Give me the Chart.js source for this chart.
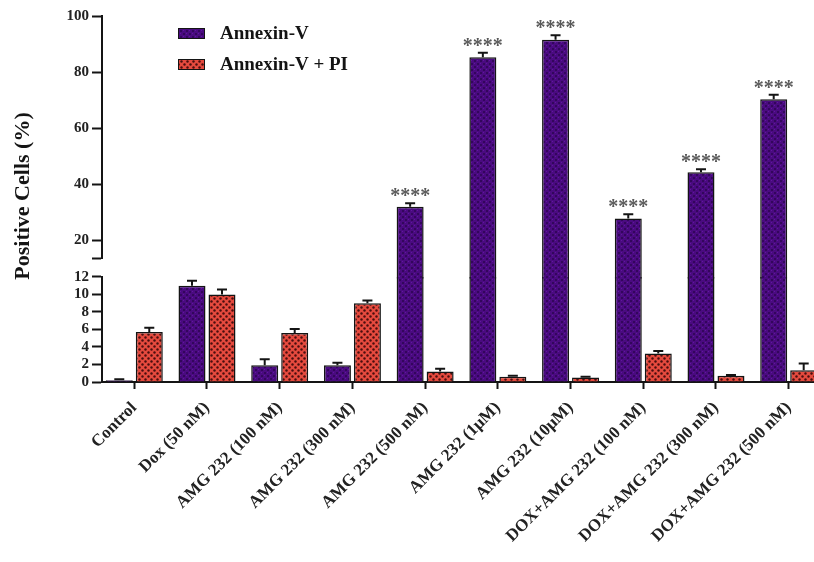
<!DOCTYPE html>
<html>
<head>
<meta charset="utf-8">
<script src="https://cdn.jsdelivr.net/npm/chart.js@4/dist/chart.umd.min.js"></script>
<style>
  html, body { margin: 0; padding: 0; background: #ffffff; }
  #wrap { width: 814px; height: 562px; position: relative; }
</style>
</head>
<body>
<div id="wrap"><canvas id="c" width="814" height="562"></canvas></div>
<script>
// Treatment groups along the x axis
const categories = [
  'Control', 'Dox (50 nM)', 'AMG 232 (100 nM)', 'AMG 232 (300 nM)',
  'AMG 232 (500 nM)', 'AMG 232 (1µM)', 'AMG 232 (10µM)',
  'DOX+AMG 232 (100 nM)', 'DOX+AMG 232 (300 nM)', 'DOX+AMG 232 (500 nM)'
];
// Mean % positive cells and their SD
const annexinV   = [0.2, 11.0, 1.9, 1.9, 32.0, 85.3, 91.5, 27.8, 44.3, 70.3];
const annexinVSd = [0.1, 0.55, 0.7, 0.3, 1.2, 1.6, 1.6, 1.5, 1.0, 1.6];
const annexinPI   = [5.7, 10.0, 5.6, 9.0, 1.2, 0.6, 0.5, 3.25, 0.7, 1.35];
const annexinPISd = [0.5, 0.55, 0.45, 0.3, 0.3, 0.1, 0.1, 0.3, 0.1, 0.75];
// Significance marks above the Annexin-V bars
const significance = ['', '', '', '', '****', '****', '****', '****', '****', '****'];
// Broken y axis: lower and upper segments
const lowTicks = [0, 2, 4, 6, 8, 10, 12];
const highTicks = [20, 40, 60, 80, 100];
const LOW_MAX = 12;
const HIGH_MIN = 13.5;
const HIGH_MAX = 100;
// upper-axis units a tall bar reaches down through the break
const BREAK_SPAN = 7.2;

const SERIF = "'Liberation Serif', 'Times New Roman', serif";
const INK = '#141414';

const canvas = document.getElementById('c');
const mainCtx = canvas.getContext('2d');

function makePattern(size, paint) {
  const tile = document.createElement('canvas');
  tile.width = tile.height = size;
  paint(tile.getContext('2d'), size);
  return mainCtx.createPattern(tile, 'repeat');
}

// dark violet with a fine speckle
const violetFill = makePattern(6, (g, s) => {
  g.fillStyle = '#4a0b80'; g.fillRect(0, 0, s, s);
  g.fillStyle = '#33065c'; g.fillRect(0, 0, 2, 2); g.fillRect(3, 3, 2, 2);
  g.fillStyle = '#6216a0'; g.fillRect(3, 0, 1, 1); g.fillRect(0, 3, 1, 1);
});
// red with a checker of dark dots
const redFill = makePattern(6, (g, s) => {
  g.fillStyle = '#e54a3e'; g.fillRect(0, 0, s, s);
  g.fillStyle = '#4a0e0e';
  g.beginPath(); g.arc(1.5, 1.5, 1.2, 0, Math.PI * 2); g.fill();
  g.beginPath(); g.arc(4.5, 4.5, 1.2, 0, Math.PI * 2); g.fill();
});

// a tall bar is drawn as two pieces: the lower axis part and the upper part,
// which reaches down through the break to meet the lower one
const lowPart = arr => arr.map((v, i) => ({ x: i, y: Math.min(v, LOW_MAX) }));
const highPart = arr => arr.map((v, i) => ({ x: i, y: v > HIGH_MIN ? v : null }));

const BW = 1.5;
function lowerSegment(label, values, fill, stack) {
  return {
    label, stack, yAxisID: 'yLow', data: lowPart(values),
    backgroundColor: fill, borderColor: INK,
    borderWidth: ctx => ({ left: BW, right: BW, bottom: 0, top: values[ctx.dataIndex] > LOW_MAX ? 0 : BW }),
    borderSkipped: false, inflateAmount: 0,
    categoryPercentage: 0.825, barPercentage: 0.9
  };
}
function upperSegment(label, values, fill, stack) {
  return {
    label, stack, yAxisID: 'yTop', data: highPart(values),
    base: HIGH_MIN - BREAK_SPAN,
    clip: false,
    backgroundColor: fill, borderColor: INK,
    borderWidth: { left: BW, right: BW, bottom: 0, top: BW },
    borderSkipped: false, inflateAmount: 0,
    categoryPercentage: 0.825, barPercentage: 0.9
  };
}

const seriesList = [
  { label: 'Annexin-V', values: annexinV, sd: annexinVSd, fill: violetFill, stack: 'a', marks: significance },
  { label: 'Annexin-V + PI', values: annexinPI, sd: annexinPISd, fill: redFill, stack: 'p', marks: null }
];

const datasets = [];
seriesList.forEach(s => {
  s.lowIndex = datasets.length;
  datasets.push(lowerSegment(s.label, s.values, s.fill, s.stack));
  datasets.push(upperSegment(s.label, s.values, s.fill, s.stack));
});

function pixelFor(chart, v) {
  if (v > HIGH_MIN) return chart.scales.yTop.getPixelForValue(v);
  return chart.scales.yLow.getPixelForValue(Math.min(v, LOW_MAX));
}

// SD whiskers and significance stars
const errorBars = {
  id: 'errorBars',
  afterDatasetsDraw(chart) {
    const ctx = chart.ctx;
    ctx.save();
    seriesList.forEach(s => {
      s.values.forEach((v, i) => {
        const bar = chart.getDatasetMeta(s.lowIndex).data[i];
        if (!bar) return;
        const x = bar.x;
        const hi = v + s.sd[i];
        const y0 = pixelFor(chart, v);
        const y1 = pixelFor(chart, hi);
        ctx.strokeStyle = INK;
        ctx.lineWidth = 2;
        ctx.beginPath();
        ctx.moveTo(x, y0); ctx.lineTo(x, y1);
        ctx.moveTo(x - 5, y1); ctx.lineTo(x + 5, y1);
        ctx.stroke();
        if (s.marks && s.marks[i]) {
          ctx.fillStyle = '#5a5a5a';
          ctx.font = 'bold 20px ' + SERIF;
          ctx.textAlign = 'center';
          ctx.textBaseline = 'alphabetic';
          ctx.fillText(s.marks[i], x, y1 - 1);
        }
      });
    });
    ctx.restore();
  }
};

// legend in the upper-left of the plot and the rotated y title
const annotations = {
  id: 'annotations',
  afterDraw(chart) {
    const ctx = chart.ctx;
    ctx.save();
    seriesList.forEach((s, k) => {
      const y = 28 + k * 31;
      ctx.fillStyle = s.fill;
      ctx.fillRect(178, y, 27, 11);
      ctx.strokeStyle = INK;
      ctx.lineWidth = 1;
      ctx.strokeRect(178.5, y + 0.5, 26, 10);
      ctx.fillStyle = INK;
      ctx.font = 'bold 19px ' + SERIF;
      ctx.textAlign = 'left';
      ctx.textBaseline = 'middle';
      ctx.fillText(s.label, 220, y + 6);
    });
    ctx.translate(23, 196);
    ctx.rotate(-Math.PI / 2);
    ctx.font = 'bold 22px ' + SERIF;
    ctx.textAlign = 'center';
    ctx.textBaseline = 'middle';
    ctx.fillStyle = INK;
    ctx.fillText('Positive Cells (%)', 0, 0);
    ctx.restore();
  }
};

const tickFont = { family: SERIF, size: 15, weight: 'bold' };
const axisGrid = { display: true, drawOnChartArea: false, drawTicks: true, tickLength: 10, tickWidth: 2, tickColor: INK };
const axisBorder = { display: true, color: INK, width: 2 };

new Chart(canvas, {
  type: 'bar',
  data: { datasets },
  plugins: [errorBars, annotations],
  options: {
    responsive: false,
    animation: false,
    layout: { padding: { top: 16, right: 0, left: 0, bottom: 0 } },
    plugins: { legend: { display: false }, tooltip: { enabled: false } },
    scales: {
      x: {
        type: 'linear', position: 'bottom', offset: false,
        min: -0.444, max: 9.348,
        afterBuildTicks: s => { s.ticks = categories.map((_, i) => ({ value: i })); },
        afterFit: s => { s.height = 180; },
        ticks: {
          autoSkip: false, maxRotation: 45, minRotation: 45, padding: 9,
          color: '#222', font: { family: SERIF, size: 17, weight: 'bold' },
          callback: v => categories[v]
        },
        grid: { display: true, offset: false, drawOnChartArea: false, drawTicks: true, tickLength: 7, tickWidth: 2, tickColor: INK },
        border: axisBorder
      },
      yLow: {
        type: 'linear', position: 'left', stack: 'v', stackWeight: 105,
        min: 0, max: LOW_MAX, stacked: false,
        afterBuildTicks: s => { s.ticks = lowTicks.map(v => ({ value: v })); },
        afterFit: s => { s.width = 102; },
        ticks: { autoSkip: false, padding: 3, color: '#222', font: tickFont },
        grid: axisGrid, border: axisBorder
      },
      yGap: {
        type: 'linear', position: 'left', stack: 'v', stackWeight: 18.4,
        min: 0, max: 1, stacked: false,
        afterFit: s => { s.width = 102; },
        ticks: { display: false },
        grid: { display: false, drawTicks: false },
        border: { display: false }
      },
      yTop: {
        type: 'linear', position: 'left', stack: 'v', stackWeight: 242.3,
        min: HIGH_MIN, max: HIGH_MAX, stacked: false,
        afterBuildTicks: s => { s.ticks = [HIGH_MIN, ...highTicks].map(v => ({ value: v })); },
        afterFit: s => { s.width = 102; },
        ticks: {
          autoSkip: false, padding: 3, color: '#222', font: tickFont,
          callback: v => highTicks.includes(v) ? String(v) : ''
        },
        grid: axisGrid, border: axisBorder
      }
    }
  }
});
</script>
</body>
</html>
